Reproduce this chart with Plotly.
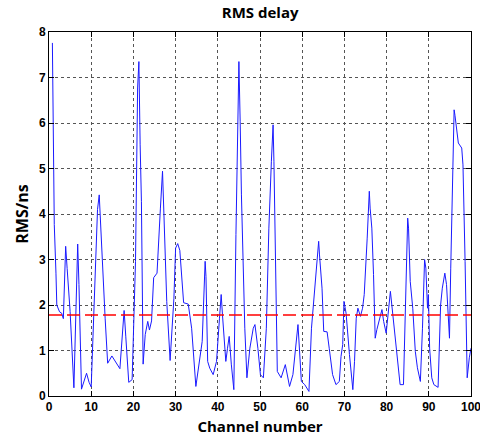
import plotly.graph_objects as go

# RMS delay per channel (vertices of the measured trace)
channel = [0.8, 1.25, 1.65, 1.85, 2.5, 3.0, 3.4, 3.95, 4.3, 5.0, 5.9, 6.8, 7.1, 7.7, 8.9, 9.5, 10.0,
           10.7, 11.5, 11.9, 12.3, 12.6, 13.3, 13.9, 14.9, 16.8, 17.8, 18.2, 18.9, 19.7, 20.5, 21.0,
           21.3, 21.6, 21.9, 22.3, 22.8, 23.4, 23.8, 24.3, 24.8, 25.6, 25.9, 26.4, 26.9, 27.2, 27.6,
           27.9, 28.7, 29.6, 30.0, 30.5, 31.0, 31.9, 33.0, 33.8, 34.8, 35.4, 36.3, 37.0, 37.2, 37.6,
           38.1, 38.9, 39.7, 40.4, 40.8, 41.1, 41.7, 41.9, 42.3, 42.7, 43.2, 43.8, 44.3, 44.7, 45.0,
           45.3, 45.6, 46.4, 46.9, 47.6, 48.4, 48.8, 49.5, 50.1, 50.8, 51.5, 52.1, 52.7, 53.1, 53.3,
           53.7, 54.1, 55.0, 56.0, 57.0, 57.8, 59.0, 59.4, 59.8, 60.6, 61.6, 62.2, 63.0, 63.4, 63.9,
           64.1, 64.7, 65.1, 65.9, 66.4, 67.2, 68.0, 68.8, 69.2, 69.6, 69.9, 70.4, 71.2, 72.0, 72.4,
           72.8, 73.2, 73.8, 74.3, 74.7, 75.4, 75.9, 76.1, 76.5, 76.9, 77.3, 77.7, 78.3, 78.9, 79.3,
           79.9, 80.9, 81.4, 82.0, 82.8, 83.2, 84.0, 84.4, 85.0, 85.2, 85.6, 86.2, 86.8, 87.3, 88.0,
           88.5, 89.0, 89.3, 89.7, 89.9, 90.2, 90.7, 91.2, 92.2, 92.8, 93.2, 93.8, 94.2, 94.9, 95.2,
           95.6, 96.0, 96.2, 97.0, 97.8, 98.1, 98.6, 99.1, 99.6, 100.0]
rms = [7.76, 3.77, 2.7, 2.0, 1.85, 1.82, 1.7, 3.29, 2.8, 1.86, 0.18, 3.34, 2.45, 0.15, 0.5, 0.3, 0.2,
       2.0, 4.1, 4.42, 3.6, 2.96, 1.71, 0.72, 0.88, 0.6, 1.88, 1.3, 0.3, 0.36, 2.96, 6.77,
       7.35, 5.52, 4.28, 0.7, 1.35, 1.64, 1.45, 1.65, 2.6, 2.7, 3.33, 4.13, 4.94, 3.98, 3.1,
       2.08, 0.78, 2.15, 3.25, 3.35, 3.2, 2.05, 2.02, 1.49, 0.21, 0.61, 1.2, 2.96, 2.63, 0.76,
       0.61, 0.47, 0.76, 1.71, 2.23, 1.79, 1.05, 0.76, 1.05, 1.31, 0.7, 0.14, 3.55, 6.04, 7.35,
       6.04, 4.42, 1.49, 0.4, 1.05, 1.49, 1.57, 1.05, 0.47, 0.4, 1.49, 3.69, 5.16, 5.96, 5.16,
       2.96, 0.54, 0.4, 0.69, 0.21, 0.47, 1.57, 1.05, 0.32, 0.25, 0.1, 1.49, 2.37, 2.81, 3.4,
       3.1, 2.37, 1.42, 1.41, 1.05, 0.47, 0.25, 0.32, 0.87, 1.13, 2.08, 1.82, 0.91, 0.14, 0.76,
       1.71, 1.93, 1.75, 1.93, 2.23, 3.47, 4.5, 4.13, 3.69, 2.67, 1.27, 1.46, 1.71, 1.9, 1.64,
       1.38, 2.3, 1.86, 1.27, 0.62, 0.25, 0.25, 1.64, 3.91, 3.69, 2.52, 1.93, 0.98, 0.62, 0.32,
       1.49, 3.0, 2.81, 1.93, 2.23, 1.05, 0.4, 0.25, 0.19, 2.0, 2.37, 2.7, 2.45, 1.27, 2.81,
       4.79, 6.29, 6.17, 5.56, 5.45, 5.08, 2.96, 0.4, 0.84, 1.05]

mean_rms = 1.78
x_range = [0, 100]
x_ticks = list(range(0, 101, 10))
y_ticks = list(range(0, 9))

fig = go.Figure()
fig.add_trace(go.Scatter(x=channel, y=rms, mode="lines",
                         line=dict(color="#1a1aff", width=1), showlegend=False))
fig.add_trace(go.Scatter(x=x_range, y=[mean_rms, mean_rms], mode="lines",
                         line=dict(color="#ff0000", width=1.3, dash="13px,5px"),
                         showlegend=False))

axis_common = dict(
    showline=True, linecolor="black", linewidth=1, mirror="ticks",
    ticks="inside", ticklen=5, tickcolor="black",
    showgrid=True, gridcolor="#555555", gridwidth=1, griddash="dot",
    zeroline=False, ticklabeloverflow="allow", automargin=False,
    tickfont=dict(family="Liberation Sans", size=12, color="black", weight="bold"),
)

fig.update_layout(
    width=480, height=443,
    margin=dict(l=49, r=9, t=32, b=47),
    paper_bgcolor="white", plot_bgcolor="white",
    title=dict(text="<b>RMS delay</b>", x=0.542, xanchor="center", y=0.972, yanchor="middle",
               font=dict(family="Open Sans", size=15, color="black")),
    xaxis=dict(range=x_range, tickvals=x_ticks,
               title=dict(text="<b>Channel number</b>", standoff=8,
                          font=dict(family="Open Sans", size=15, color="black")),
               **axis_common),
    yaxis=dict(range=[0, 8], tickvals=y_ticks,
               title=dict(text="<b>RMS/ns</b>", standoff=6,
                          font=dict(family="Open Sans", size=16, color="black")),
               **axis_common),
)

fig.write_html("out.html")
